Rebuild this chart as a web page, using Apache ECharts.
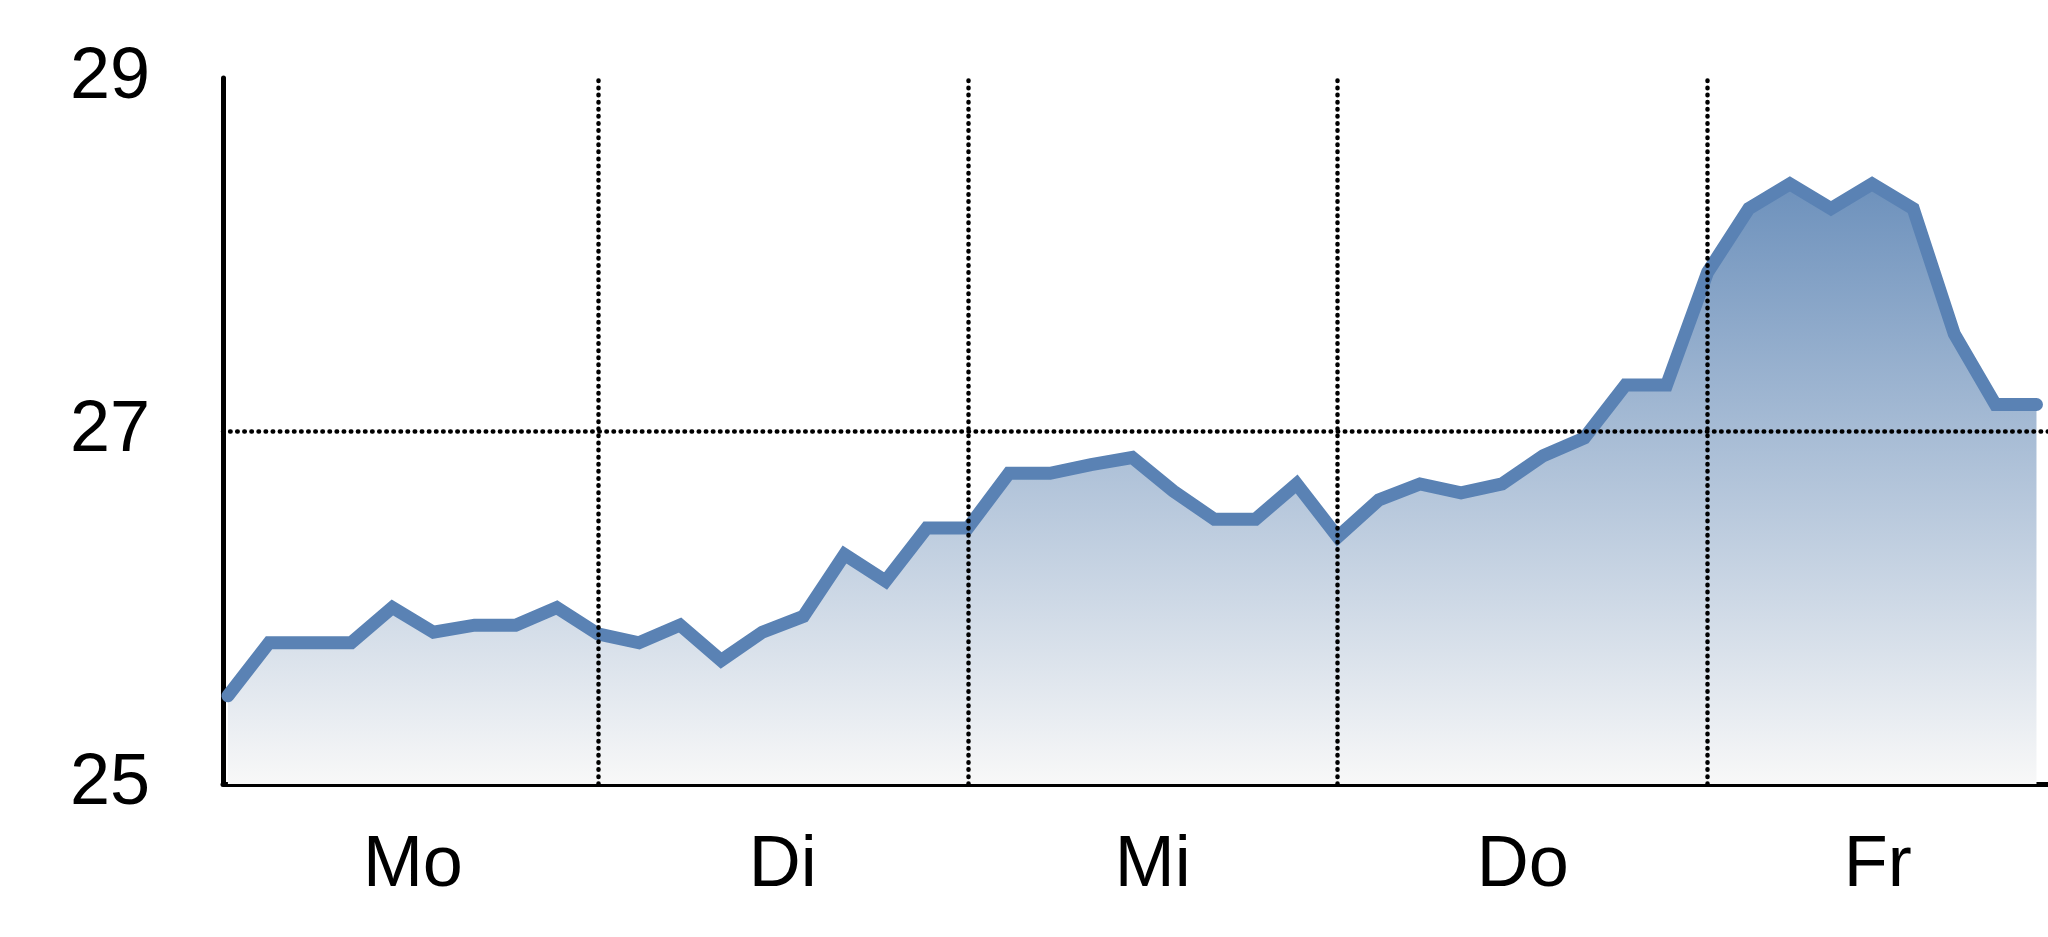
<!DOCTYPE html>
<html>
<head>
<meta charset="utf-8">
<style>
  html, body { margin: 0; padding: 0; background: #ffffff; }
  #chart { width: 2048px; height: 937px; }
</style>
<script src="https://cdn.jsdelivr.net/npm/echarts@6/dist/echarts.min.js"></script>
</head>
<body>
<div id="chart"></div>
<script>
// ---- data ----
const dayLabels = ['Mo', 'Di', 'Mi', 'Do', 'Fr'];
const pointsPerDay = 9;
const yTicks = [25, 27, 29];
const referenceLevel = 27;
const values = [
  25.50, 25.80, 25.80, 25.80, 26.00, 25.86, 25.90, 25.90, 26.00,
  25.85, 25.80, 25.90, 25.70, 25.86, 25.95, 26.30, 26.15, 26.45,
  26.45, 26.76, 26.76, 26.81, 26.85, 26.66, 26.50, 26.50, 26.70,
  26.40, 26.61, 26.70, 26.65, 26.70, 26.86, 26.96, 27.26, 27.26,
  27.90, 28.26, 28.40, 28.26, 28.40, 28.26, 27.55, 27.15, 27.15
];

// ---- build ----
const xMin = -0.12;
const xMax = 44.28;
const seriesData = values.map((v, i) => [i, v]);
const dayBounds = dayLabels.slice(1).map((d, k) => (k + 1) * pointsPerDay);
const labelPos = dayLabels.map((d, k) => {
  const a = k * pointsPerDay;
  const b = Math.min((k + 1) * pointsPerDay, xMax);
  return (a + b) / 2;
});

const font = '"Liberation Sans", Arial, sans-serif';
const chart = echarts.init(document.getElementById('chart'), null, { renderer: 'canvas' });

chart.setOption({
  animation: false,
  backgroundColor: '#ffffff',
  grid: { left: 223, right: 0, top: 78, bottom: 153, containLabel: false },
  xAxis: {
    type: 'value',
    min: xMin,
    max: xMax,
    axisLine: { show: true, onZero: false, lineStyle: { color: '#000000', width: 5 } },
    axisTick: { show: false },
    splitLine: { show: false },
    axisLabel: {
      show: true,
      customValues: labelPos,
      formatter: function (v) {
        let best = 0, bd = Infinity;
        labelPos.forEach((p, i) => { const d = Math.abs(p - v); if (d < bd) { bd = d; best = i; } });
        return dayLabels[best];
      },
      fontFamily: font,
      fontSize: 72,
      color: '#000000',
      margin: 46
    }
  },
  yAxis: {
    type: 'value',
    min: yTicks[0],
    max: yTicks[yTicks.length - 1],
    interval: yTicks[1] - yTicks[0],
    axisLine: { show: true, onZero: false, lineStyle: { color: '#000000', width: 5 } },
    axisTick: { show: false },
    splitLine: { show: false },
    axisLabel: {
      fontFamily: font,
      fontSize: 72,
      color: '#000000',
      margin: 73
    }
  },
  series: [{
    type: 'line',
    data: seriesData,
    showSymbol: false,
    symbol: 'none',
    lineStyle: { color: '#5a82b4', width: 13, cap: 'round', join: 'miter' },
    areaStyle: {
      origin: 'start',
      opacity: 1,
      color: new echarts.graphic.LinearGradient(0, 0, 0, 1, [
        { offset: 0, color: '#6d91bc' },
        { offset: 1, color: '#f8f8f8' }
      ])
    },
    z: 3,
    markLine: {
      silent: true,
      symbol: ['none', 'none'],
      label: { show: false },
      lineStyle: { color: '#000000', width: 4.5, type: [0.5, 6.6], cap: 'round', opacity: 1 },
      emphasis: { disabled: true },
      data: dayBounds.map(b => ({ xAxis: b })).concat([{ yAxis: referenceLevel }])
    }
  }]
});
</script>
</body>
</html>
